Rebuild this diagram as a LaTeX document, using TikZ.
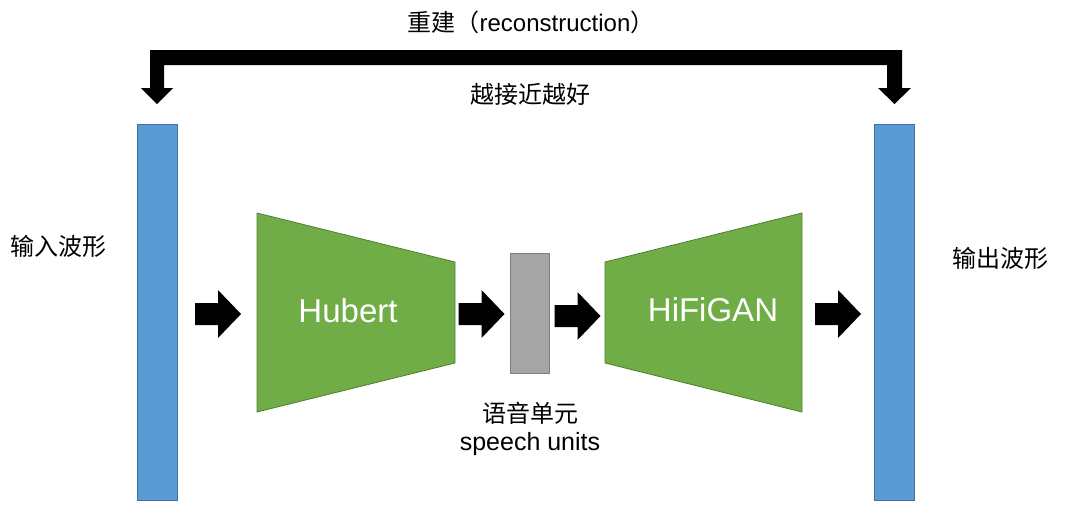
\documentclass[tikz,border=0pt]{standalone}
\usepackage{fontspec}
\setmainfont{Liberation Sans}
\newfontfamily\cjk{Noto Sans CJK SC}
\definecolor{barblue}{HTML}{5B9BD5}
\definecolor{barblueline}{HTML}{41719C}
\definecolor{modgreen}{HTML}{70AD47}
\definecolor{modgreenline}{HTML}{507E32}
\definecolor{unitgray}{HTML}{A5A5A5}
\definecolor{unitgrayline}{HTML}{7F7F7F}
\tikzset{
  wavebar/.style={fill=barblue,draw=barblueline,line width=0.8pt},
  module/.style={fill=modgreen,draw=modgreenline,line width=0.8pt},
  unitbox/.style={fill=unitgray,draw=unitgrayline,line width=0.8pt},
  lbl/.style={font=\fontsize{24}{28}\selectfont,inner sep=0pt},
  modlbl/.style={font=\fontsize{33}{38}\selectfont,text=white,inner sep=0pt},
  barrow/.pic={\fill[black] (-23,-11) -- (0,-11) -- (0,-24) -- (23,0) -- (0,24) -- (0,11) -- (-23,11) -- cycle;}
}
\begin{document}
\begin{tikzpicture}[x=1pt,y=-1pt]
\useasboundingbox (0,0) rectangle (1068,515);
% waveforms
\path[wavebar] (137,124) rectangle (177,500);
\path[wavebar] (874,124) rectangle (914,500);
\node[inner sep=0pt,minimum width=40pt,minimum height=376pt] (in) at (157,312) {};
\node[inner sep=0pt,minimum width=40pt,minimum height=376pt] (out) at (894,312) {};
% modules
\path[module] (257,213) -- (455,262) -- (455,363) -- (257,412) -- cycle;
\path[module] (605,262) -- (802,213) -- (802,412) -- (605,363) -- cycle;
\path[unitbox] (510,253) rectangle (549,373);
\node[modlbl] (hub) at (348,311) {Hubert};
\node[modlbl] (hifi) at (713,310) {HiFiGAN};
\node[inner sep=0pt,minimum width=39pt,minimum height=120pt] (su) at (529.5,313) {};
% block arrows
\pic at (218,314) {barrow};
\pic at (481.5,314) {barrow};
\pic at (577.5,316) {barrow};
\pic at (838,314) {barrow};
% reconstruction bracket
\fill[black] (150,50) -- (902,50) -- (902,88) -- (911,88) -- (894.5,104) -- (878,88) -- (887,88)
  -- (887,65) -- (164,65) -- (164,88) -- (173,88) -- (157,104) -- (141,88) -- (150,88) -- cycle;
% labels
\node[lbl] (rec) at (531,22) {{\cjk 重建（}reconstruction{\cjk ）}};
\node[lbl] (near) at (530,94) {\cjk 越接近越好};
\node[lbl] (inlbl) at (58.5,246) {\cjk 输入波形};
\node[lbl] (outlbl) at (1000,258) {\cjk 输出波形};
\node[lbl] (sulbl) at (530,413) {\cjk 语音单元};
\node[lbl,font=\fontsize{25}{29}\selectfont] (suen) at (530,444) {speech units};
\end{tikzpicture}
\end{document}
